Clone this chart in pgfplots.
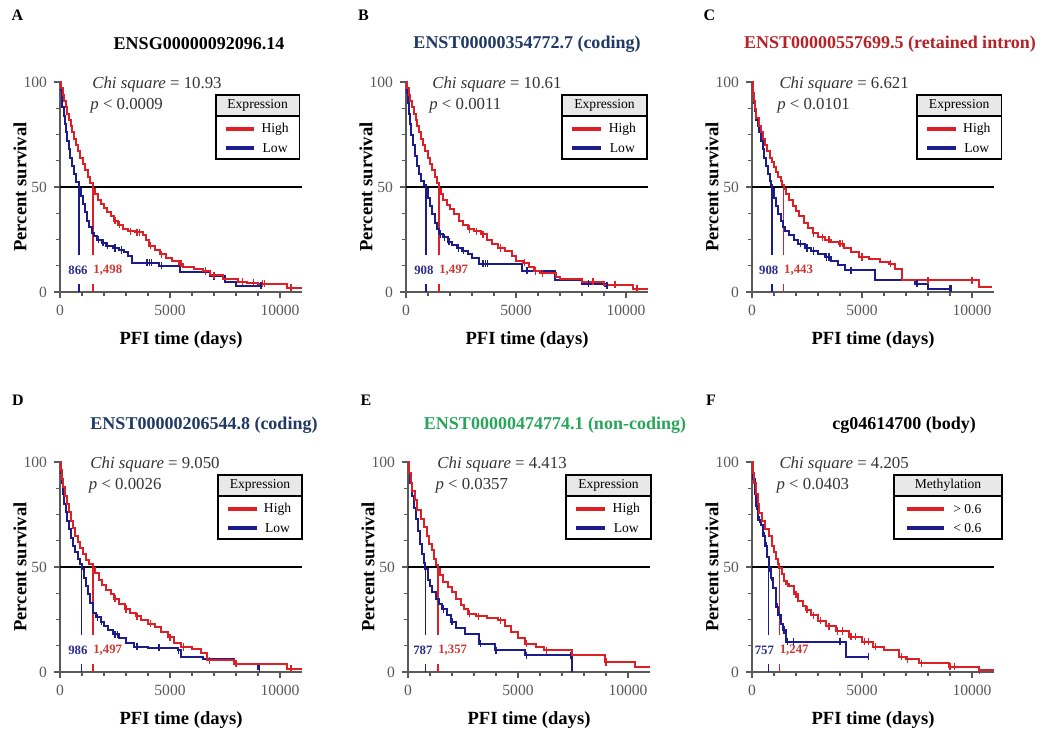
\documentclass[border=0pt]{standalone}
\usepackage{fontspec}
\setmainfont{Liberation Serif}
\usepackage{pgfplots}
\pgfplotsset{compat=1.18}

\definecolor{hired}{RGB}{222,32,38}
\definecolor{lowblue}{RGB}{28,28,140}
\definecolor{medblue}{RGB}{45,45,140}
\definecolor{medred}{RGB}{205,55,50}
\definecolor{titnavy}{RGB}{31,56,100}
\definecolor{titred}{RGB}{180,35,40}
\definecolor{titgreen}{RGB}{40,165,90}
\definecolor{axgray}{RGB}{90,90,90}

\newcommand{\ticfont}{\fontsize{7.8}{8}\selectfont}
\newcommand{\labfont}{\fontsize{9.3}{10}\selectfont\bfseries}
\newcommand{\titfont}{\fontsize{9}{10}\selectfont\bfseries}
\newcommand{\chifont}{\fontsize{8.4}{9}\selectfont}
\newcommand{\legfont}{\fontsize{6.8}{7}\selectfont}
\newcommand{\medfont}{\fontsize{6.4}{7}\selectfont\bfseries}
\newcommand{\letfont}{\fontsize{8}{9}\selectfont\bfseries}

\pgfplotsset{km/.style={
  scale only axis, width=121pt, height=105pt, anchor=south west,
  xmin=0, xmax=11000, ymin=0, ymax=100,
  axis lines=left,
  axis line style={-, axgray, line width=0.7pt},
  xtick={0,5000,10000}, ytick={0,50,100},
  scaled x ticks=false,
  minor x tick num=4, minor y tick num=3,
  tick align=outside, major tick length=3pt, minor tick length=2.2pt,
  every tick/.style={axgray, line width=0.6pt},
  tick label style={font=\ticfont, text=axgray},
  /pgf/number format/1000 sep={},
  /pgf/number format/assume math mode=true,
  xlabel={PFI time (days)}, ylabel={Percent survival},
  label style={font=\labfont},
  xlabel style={at={(axis description cs:0.5,-0.229)}, anchor=center},
  ylabel style={at={(axis description cs:-0.165,0.5)}, anchor=center},
  clip=false,
}}
\pgfplotsset{
  hi/.style={const plot, hired, line width=1pt},
  lo/.style={const plot, lowblue, line width=1pt},
  hic/.style={only marks, mark=|, mark size=1.8pt, hired, mark options={line width=0.6pt}},
  loc/.style={only marks, mark=|, mark size=1.8pt, lowblue, mark options={line width=0.6pt}},
}

% legend: L, R, line L, line R, text x, header x, header, entry 1, entry 2
\newcommand{\kmlegend}[9]{%
  \draw[line width=0.6pt, fill=gray!18] (rel axis cs:#1,0.838) rectangle (rel axis cs:#2,0.938);
  \draw[line width=0.6pt, fill=white] (rel axis cs:#1,0.633) rectangle (rel axis cs:#2,0.838);
  \node[font=\legfont, inner sep=0pt] at (rel axis cs:#6,0.888) {#7};
  \draw[hired, line width=1.6pt] (rel axis cs:#3,0.776) -- (rel axis cs:#4,0.776);
  \draw[lowblue, line width=1.6pt] (rel axis cs:#3,0.686) -- (rel axis cs:#4,0.686);
  \node[font=\legfont, inner sep=0pt] at (rel axis cs:#5,0.776) {#8};
  \node[font=\legfont, inner sep=0pt] at (rel axis cs:#5,0.686) {#9};
}
% chi text: x line 1, x line 2, chi, p
\newcommand{\kmchi}[4]{%
  \node[anchor=west, font=\chifont, text=black!80, inner sep=0pt] at (rel axis cs:#1,0.99) {\textit{Chi square} = #3};
  \node[anchor=west, font=\chifont, text=black!80, inner sep=0pt] at (rel axis cs:#2,0.885) {\textit{p} < #4};
}
% medians: blue x, red x, blue label, red label
\newcommand{\kmmedian}[4]{%
  \addplot[black, line width=0.6pt] coordinates {(0,50) (11000,50)};
  \addplot[lowblue, line width=0.7pt] coordinates {(#1,17.5) (#1,50)};
  \addplot[hired, line width=0.7pt] coordinates {(#2,17.5) (#2,50)};
  \addplot[lowblue, line width=0.7pt] coordinates {(#1,0) (#1,4)};
  \addplot[hired, line width=0.7pt] coordinates {(#2,0) (#2,4)};
  \node[anchor=east, font=\medfont, text=medblue, inner sep=0pt, xshift=-2.5pt] at (axis cs:#2,10.5) {#3};
  \node[anchor=west, font=\medfont, text=medred, inner sep=0pt] at (axis cs:#2,10.5) {#4};
}

\begin{document}
\begin{tikzpicture}
\path[use as bounding box] (0,0) rectangle (524pt,367.5pt);

% ---------- A ----------
\begin{axis}[km, at={(30pt,221.5pt)}]
\kmmedian{866}{1498}{866}{1,498}
\addplot[lo] coordinates {(0,100)(30,96)(70,92)(110,88)(160,84)(210,80)(270,76)(330,72)(400,68)(470,64)(550,60)(640,56)(740,52.5)(866,49)(950,45.5)(1040,42)(1130,38)(1230,34)(1340,31)(1450,28)(1550,26.5)(1700,25)(1900,23.5)(2100,22)(2400,21)(2700,20)(2900,19)(3100,17)(3250,14)(4500,12.5)(5450,9.5)(6800,7.5)(7500,5)(8000,3)(9200,3)};
\addplot[loc] coordinates {(1750,25)(1950,23.5)(2150,22)(2500,21)(2800,20)(3950,14)(4050,14)(4150,14)(4600,12.5)(7000,7.5)(9100,3)(9150,3)};
\addplot[hi] coordinates {(0,100)(60,97)(120,94)(180,91)(250,88)(320,85)(400,82)(480,79)(560,76)(650,73)(740,70)(830,67)(930,64)(1030,61)(1140,58)(1250,55)(1370,52)(1498,49)(1600,46.5)(1720,44)(1850,42)(2000,40)(2150,38)(2300,36)(2450,34)(2650,32)(2850,30)(3100,29)(3400,28.5)(3750,27)(3900,25)(4050,22)(4300,20)(4550,18)(4800,16)(5100,15)(5400,13.5)(5600,12)(6100,11)(6500,10)(6800,8)(7400,6)(8100,5)(8500,4.5)(9000,4)(10300,2)(11000,2)};
\addplot[hic] coordinates {(2500,34)(2700,32)(3200,29)(3500,28.5)(3600,28.5)(4100,22)(4600,18)(5500,13.5)(6600,10)(7000,8)(8300,5)(8800,4.5)(9200,4)(9300,4)(10500,2)};
\kmchi{0.132}{0.124}{10.93}{0.0009}
\kmlegend{0.645}{0.988}{0.686}{0.803}{0.889}{0.8165}{Expression}{High}{Low}
\end{axis}

% ---------- B ----------
\begin{axis}[km, at={(203pt,221.5pt)}]
\kmmedian{908}{1497}{908}{1,497}
\addplot[lo] coordinates {(0,100)(30,95)(70,90)(120,85)(180,80)(240,75)(310,70)(390,65)(480,60)(580,56)(700,53)(808,51)(908,49)(1000,45)(1100,41)(1200,37)(1300,33)(1420,30)(1485,27.6)(1700,26)(1900,24)(2100,22.5)(2300,21)(2545,19.7)(2800,18)(3000,16)(3300,13.4)(5270,10.2)(6790,5.5)(8000,4)(9060,3)(9200,3)};
\addplot[loc] coordinates {(1550,27.6)(1750,26)(1950,24)(2400,21)(2600,19.7)(3500,13.4)(3600,13.4)(3700,13.4)(5500,10.2)(8300,4)(9100,3)(9150,3)};
\addplot[hi] coordinates {(0,100)(60,97)(130,94)(200,91)(280,88)(360,85)(440,82)(520,79)(610,76)(700,73)(790,70)(880,67)(980,64)(1080,61)(1190,58)(1300,55)(1400,52)(1497,49)(1600,46.5)(1700,44)(1850,41.5)(2000,39.5)(2200,37)(2400,34)(2600,32)(2800,30)(3100,29)(3400,27.5)(3700,25)(3900,23)(4200,21)(4500,19.5)(4800,17)(5000,15)(5300,14)(5600,12)(5800,10)(6100,9)(6800,7)(7000,6)(8000,5)(9000,3.5)(10300,1.6)(11000,1.6)};
\addplot[hic] coordinates {(2900,30)(3200,29)(3500,27.5)(4300,21)(5400,14)(5900,10)(6200,9)(8500,5)(9500,3.5)(10500,1.6)};
\kmchi{0.107}{0.095}{10.61}{0.0011}
\kmlegend{0.645}{0.996}{0.687}{0.806}{0.894}{0.8205}{Expression}{High}{Low}
\end{axis}

% ---------- C ----------
\begin{axis}[km, at={(376pt,221.5pt)}]
\kmmedian{908}{1443}{908}{1,443}
\addplot[lo] coordinates {(0,100)(30,95)(70,90)(120,86)(180,82)(250,79)(320,76)(400,72)(480,68)(560,64)(640,60)(720,56)(800,53)(860,51)(908,49)(1000,45)(1100,41)(1200,37)(1300,34)(1420,31)(1515,29)(1700,27)(1900,25)(2100,23)(2420,21)(2700,19.5)(3000,18)(3330,16.7)(3600,15)(3900,13)(4240,10.3)(5600,5.5)(7420,4)(8000,1.6)(9090,1.6)};
\addplot[loc] coordinates {(2200,23)(2500,21)(2800,19.5)(3400,16.7)(3500,16.7)(4500,10.3)(7500,4)(9000,1.6)(9050,1.6)};
\addplot[hi] coordinates {(0,100)(40,95)(80,91)(130,87)(200,83)(300,79)(400,76)(500,73)(600,70)(700,67)(800,64)(900,62)(1000,59.5)(1100,57)(1200,55)(1300,53)(1380,51)(1443,49)(1550,46.5)(1700,44)(1850,41)(2000,38.5)(2150,36)(2350,33)(2550,30.5)(2750,28)(3000,26)(3300,25)(3600,24)(3940,23)(4200,21)(4500,19)(4850,16.7)(5300,15.5)(5800,14.5)(6210,13.5)(6500,11)(6820,5.5)(10300,2.4)(10900,2.4)};
\addplot[hic] coordinates {(2800,28)(3200,26)(3500,25)(4000,23)(4100,23)(5000,16.7)(6300,13.5)(8000,5.5)(10000,5.5)};
\kmchi{0.112}{0.103}{6.621}{0.0101}
\kmlegend{0.682}{1.03}{0.724}{0.842}{0.929}{0.856}{Expression}{High}{Low}
\end{axis}

% ---------- D ----------
\begin{axis}[km, at={(30pt,31.5pt)}]
\kmmedian{986}{1497}{986}{1,497}
\addplot[lo] coordinates {(0,100)(30,95)(70,90)(120,85)(180,80)(250,76)(330,72)(410,68)(500,64)(600,60)(700,57)(800,54)(900,51.5)(986,49)(1080,45)(1180,41)(1280,37)(1380,33)(1480,28)(1650,26)(1850,24)(2000,22)(2170,20)(2400,18)(2700,16)(3000,14)(3380,12)(4000,11.5)(5350,10.3)(5500,7.1)(6500,6)(7900,4)(9000,1.6)(9100,1.6)};
\addplot[loc] coordinates {(1700,26)(1900,24)(2500,18)(2600,18)(3500,12)(4500,11.5)(5400,10.3)(8000,4)(9050,1.6)};
\addplot[hi] coordinates {(0,100)(40,96)(90,92)(150,88)(220,84)(300,80)(390,76)(480,72)(580,68.5)(690,65)(800,62)(920,59)(1050,56)(1180,53.5)(1330,51.5)(1497,49.5)(1600,47)(1750,44)(1900,41.5)(2100,39)(2300,37)(2470,35)(2700,32.5)(2950,30)(3200,28)(3450,26.5)(3700,25)(4000,23)(4300,21.4)(4600,19)(4900,16.5)(5200,14)(5500,11.9)(6000,11)(6400,9)(6700,5.5)(7900,4)(10300,1.6)(11000,1.6)};
\addplot[hic] coordinates {(2500,35)(3000,30)(3500,26.5)(4100,23)(5000,16.5)(5600,11.9)(6800,5.5)(8000,4)(10500,1.6)};
\kmchi{0.124}{0.118}{9.050}{0.0026}
\kmlegend{0.653}{1.0}{0.695}{0.813}{0.899}{0.8265}{Expression}{High}{Low}
\end{axis}

% ---------- E ----------
\begin{axis}[km, at={(204pt,31.5pt)}]
\kmmedian{787}{1357}{787}{1,357}
\addplot[lo] coordinates {(0,100)(40,95)(100,90)(180,84)(260,78)(350,73)(450,67)(550,61)(650,56)(720,52)(787,49)(900,44)(1000,41)(1100,38)(1250,35)(1390,32.5)(1550,30)(1750,27)(1950,24)(2200,21)(2600,18.2)(3210,13.5)(3970,10.3)(5330,7.9)(7450,0)};
\addplot[loc] coordinates {(1600,30)(2000,24)(3300,13.5)(4000,10.3)(5400,7.9)(7400,7.9)};
\addplot[hi] coordinates {(0,100)(50,95)(120,90)(200,86)(300,82)(420,77)(600,73)(720,69)(850,65)(970,61)(1090,58)(1200,54)(1280,51)(1357,49)(1450,46)(1600,43)(1820,40.5)(2000,38)(2200,35)(2400,32)(2550,30)(2730,27.8)(3100,26.5)(3600,25.5)(4090,24.6)(4400,22)(4700,19)(5000,16)(5300,13.5)(5800,12)(6200,10.3)(7450,7.9)(8970,4.8)(10330,2.4)(11000,2.4)};
\addplot[hic] coordinates {(2800,27.8)(3200,26.5)(4200,24.6)(5400,13.5)(6300,10.3)(9000,4.8)};
\kmchi{0.12}{0.112}{4.413}{0.0357}
\kmlegend{0.653}{1.004}{0.695}{0.814}{0.902}{0.8285}{Expression}{High}{Low}
\end{axis}

% ---------- F ----------
\begin{axis}[km, at={(376pt,31.5pt)}]
\kmmedian{757}{1247}{757}{1,247}
\addplot[lo] coordinates {(0,100)(60,92)(130,85)(200,79)(260,72.6)(400,70)(500,65)(600,60)(680,55)(757,49.5)(850,45)(950,40)(1090,31)(1200,27)(1300,23)(1390,20)(1550,14.5)(4270,7.3)(5330,7.3)};
\addplot[loc] coordinates {(220,79)(350,72.6)(550,65)(650,60)(800,49.5)(900,45)(1150,31)(1250,27)(1450,20)(1600,14.5)(1900,14.5)(4000,14.5)(5300,7.3)};
\addplot[hi] coordinates {(0,100)(40,95)(100,90)(170,85)(250,80)(330,75.8)(450,72)(600,68)(790,64.6)(900,60)(1000,57)(1100,54)(1180,51.5)(1247,49.5)(1350,46.5)(1450,43.5)(1550,42)(1700,40.8)(1900,37)(2100,34)(2300,31.5)(2450,29.6)(2700,27)(3000,24.5)(3360,21.7)(3800,19.5)(4420,16.9)(5000,14.5)(5480,12.1)(6000,10.5)(6700,7.3)(7000,6)(7600,4.1)(8970,2.5)(10300,1.0)(11000,1.0)};
\addplot[hic] coordinates {(1600,42)(2000,37)(2500,29.6)(2800,27)(3100,24.5)(3500,21.7)(3900,19.5)(4100,19.5)(4500,16.9)(4700,16.9)(5100,14.5)(5300,14.5)(5600,12.1)(6800,7.3)(7050,6)(7700,4.1)(9000,2.5)(9200,2.5)(10350,1.0)};
\kmchi{0.112}{0.1}{4.205}{0.0403}
\kmlegend{0.587}{1.033}{0.641}{0.792}{0.89}{0.81}{Methylation}{> 0.6}{< 0.6}
\end{axis}

% ---------- titles and letters ----------
\node[font=\titfont, text=black] at (99.5pt,345.5pt) {ENSG00000092096.14};
\node[font=\titfont, text=titnavy] at (263.5pt,345.5pt) {ENST00000354772.7 (coding)};
\node[font=\titfont, text=titred] at (445pt,345.5pt) {ENST00000557699.5 (retained intron)};
\node[font=\titfont, text=titnavy] at (102pt,155pt) {ENST00000206544.8 (coding)};
\node[font=\titfont, text=titgreen] at (277.5pt,155pt) {ENST00000474774.1 (non-coding)};
\node[font=\titfont, text=black] at (452pt,155pt) {cg04614700 (body)};

\node[font=\letfont] at (8.75pt,360pt) {A};
\node[font=\letfont] at (181.75pt,360pt) {B};
\node[font=\letfont] at (354.75pt,360pt) {C};
\node[font=\letfont] at (9pt,167.5pt) {D};
\node[font=\letfont] at (183pt,167.5pt) {E};
\node[font=\letfont] at (355.5pt,167.5pt) {F};
\end{tikzpicture}
\end{document}
